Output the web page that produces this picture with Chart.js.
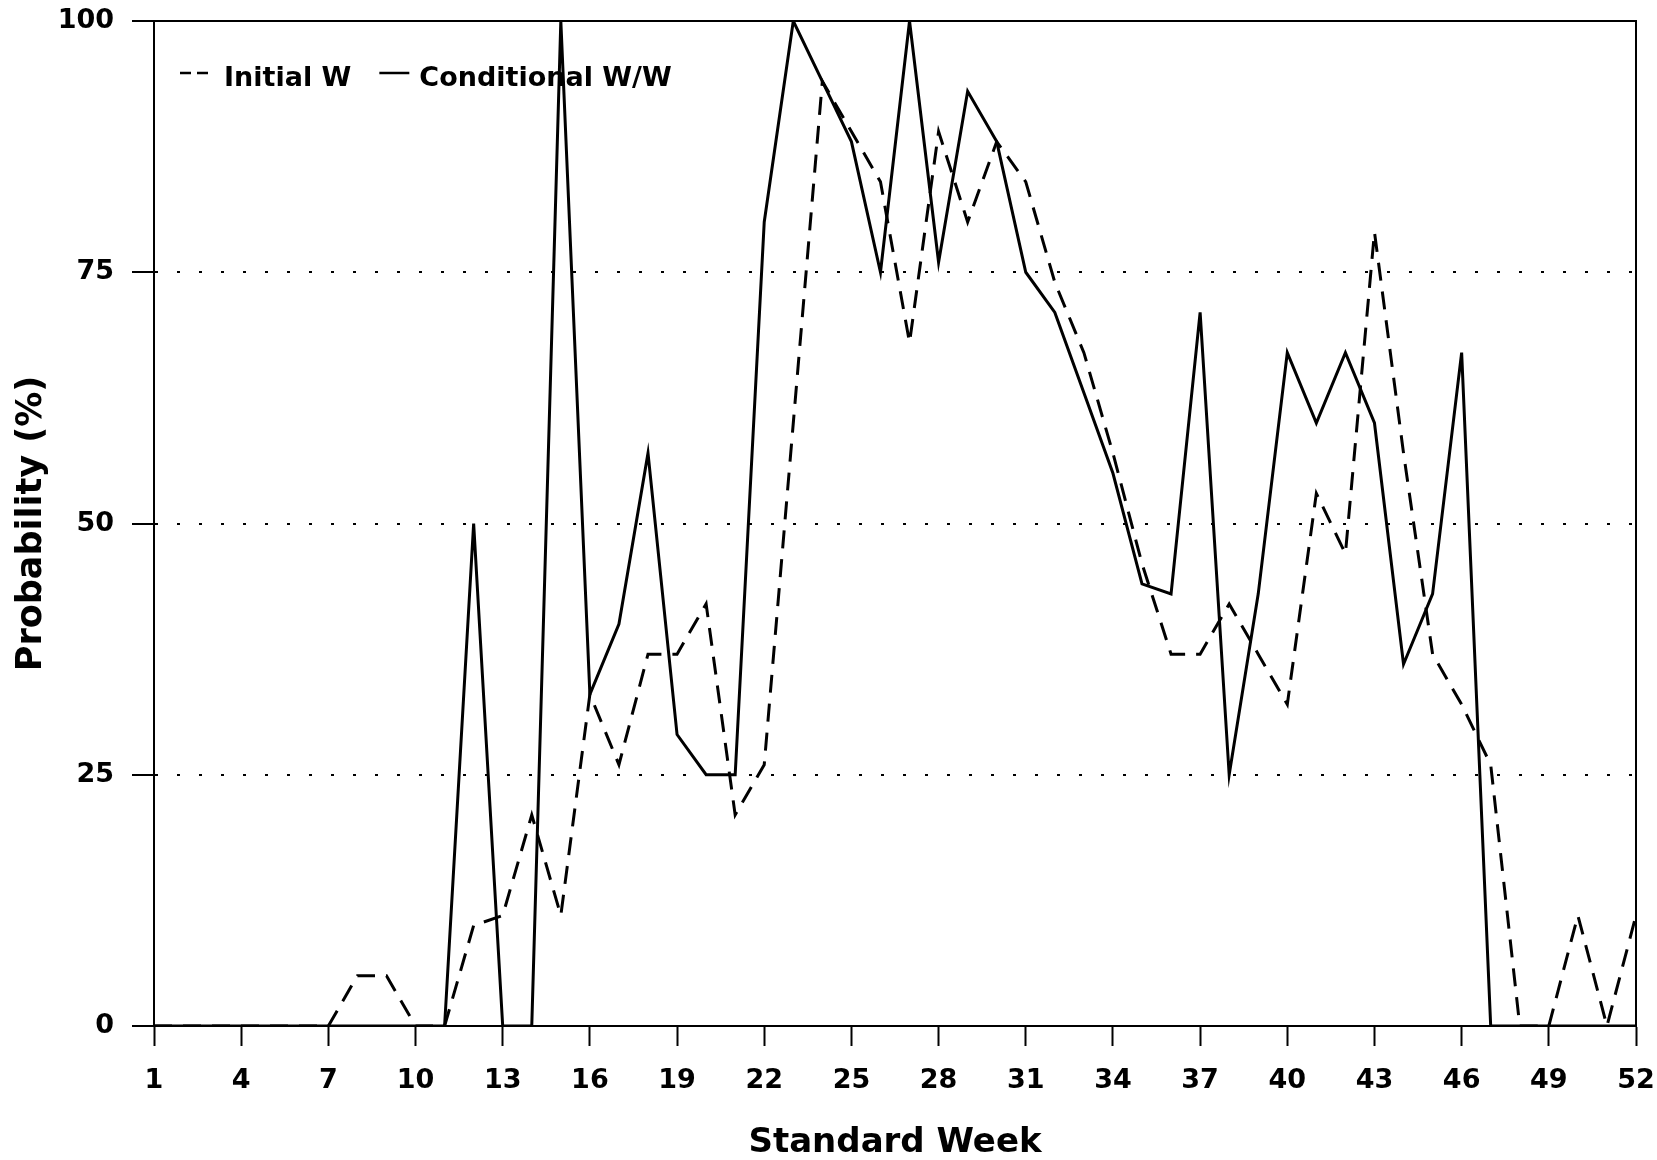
<!DOCTYPE html>
<html>
<head>
<meta charset="utf-8">
<script src="https://cdn.jsdelivr.net/npm/chart.js@4.4.1/dist/chart.umd.min.js"></script>
<style>
  html, body { margin: 0; padding: 0; background: #ffffff; }
  #wrap { width: 1657px; height: 1160px; position: relative; }
</style>
</head>
<body>
<div id="wrap"><canvas id="c" width="1657" height="1160"></canvas></div>
<script>
// ---- data ----
const weeks = [1,2,3,4,5,6,7,8,9,10,11,12,13,14,15,16,17,18,19,20,21,22,23,24,25,26,
               27,28,29,30,31,32,33,34,35,36,37,38,39,40,41,42,43,44,45,46,47,48,49,50,51,52];
const initialW = [0,0,0,0,0,0,0,5,5,0,0,10,11,21,11,33,26,37,37,42,21,26,60,94,89,84,
                  68,89,80,88,84,74,67,57,46,37,37,42,37,32,53,47,79,57,37,32,26,0,0,11,0,11];
const conditionalWW = [0,0,0,0,0,0,0,0,0,0,0,50,0,0,100,33,40,57,29,25,25,80,100,94,88,75,
                       100,76,93,88,75,71,63,55,44,43,71,25,43,67,60,67,60,36,43,67,0,0,0,0,0,0];
const weekTicks = [1,4,7,10,13,16,19,22,25,28,31,34,37,40,43,46,49,52];
const probTicks = [0,25,50,75,100];
const seriesLabels = ['Initial W', 'Conditional W/W'];
const xTitle = 'Standard Week';
const yTitle = 'Probability (%)';

const FONT = "'DejaVu Sans', 'Liberation Sans', Arial, sans-serif";

const framePlugin = {
  id: 'frame',
  beforeDatasetsDraw(chart) {
    const {ctx, chartArea: a} = chart;
    ctx.save();
    ctx.strokeStyle = '#000';
    ctx.lineWidth = 2;
    ctx.beginPath();
    ctx.moveTo(a.left, a.top);
    ctx.lineTo(a.right, a.top);
    ctx.lineTo(a.right, a.bottom);
    ctx.stroke();
    ctx.restore();
  }
};

const legendPlugin = {
  id: 'innerLegend',
  afterDraw(chart) {
    const {ctx, chartArea: a} = chart;
    const y = a.top + 58;
    let x = a.left + 26;
    ctx.save();
    ctx.font = "bold 27px " + FONT;
    ctx.fillStyle = '#000';
    ctx.textBaseline = 'middle';
    ctx.textAlign = 'left';
    chart.data.datasets.forEach((ds, i) => {
      const sampleLen = i === 0 ? 34 : 30;
      ctx.strokeStyle = '#000';
      ctx.lineWidth = 2.5;
      ctx.setLineDash(i === 0 ? [11, 6] : []);
      ctx.beginPath();
      ctx.moveTo(x, y - 6);
      ctx.lineTo(x + sampleLen, y - 6);
      ctx.stroke();
      ctx.setLineDash([]);
      x += sampleLen + 10;
      ctx.fillText(ds.label, x, y);
      x += ctx.measureText(ds.label).width + 28;
    });
    ctx.restore();
  }
};

new Chart(document.getElementById('c'), {
  type: 'line',
  data: {
    datasets: [
      {
        label: seriesLabels[0],
        data: weeks.map((w, i) => ({x: w, y: initialW[i]})),
        borderColor: '#000',
        borderWidth: 3,
        borderDash: [18, 11],
        pointRadius: 0,
        tension: 0,
        fill: false
      },
      {
        label: seriesLabels[1],
        data: weeks.map((w, i) => ({x: w, y: conditionalWW[i]})),
        borderColor: '#000',
        borderWidth: 3,
        pointRadius: 0,
        tension: 0,
        fill: false
      }
    ]
  },
  options: {
    responsive: false,
    animation: false,
    devicePixelRatio: 1,
    layout: { autoPadding: false, padding: { top: 21, right: 21, left: 0, bottom: 0 } },
    plugins: {
      legend: { display: false },
      tooltip: { enabled: false }
    },
    scales: {
      x: {
        type: 'linear',
        min: 1,
        max: 52,
        afterBuildTicks: (axis) => { axis.ticks = weekTicks.map(v => ({value: v})); },
        afterFit: (scale) => {
          scale.height = 134;
          scale.paddingLeft = 0;
          scale.paddingRight = 0;
        },
        ticks: {
          color: '#000',
          font: { family: FONT, size: 27, weight: 'bold' },
          padding: 19,
          maxRotation: 0,
          autoSkip: false,
          callback: (v) => String(v)
        },
        grid: {
          drawOnChartArea: false,
          drawTicks: true,
          tickLength: 20,
          tickWidth: 2,
          tickColor: '#000',
          color: 'transparent'
        },
        border: { display: true, color: '#000', width: 2 },
        title: {
          display: true,
          text: xTitle,
          color: '#000',
          font: { family: FONT, size: 34, weight: 'bold', lineHeight: 1 },
          padding: { top: 0, bottom: 0 }
        }
      },
      y: {
        type: 'linear',
        min: 0,
        max: 100,
        afterBuildTicks: (axis) => { axis.ticks = probTicks.map(v => ({value: v})); },
        afterFit: (scale) => {
          scale.width = 154;
          scale.paddingTop = 0;
          scale.paddingBottom = 0;
        },
        ticks: {
          color: '#000',
          font: { family: FONT, size: 27, weight: 'bold' },
          padding: 18,
          callback: (v) => String(v)
        },
        grid: {
          drawOnChartArea: true,
          drawTicks: true,
          tickLength: 22,
          tickWidth: 2,
          tickColor: '#000',
          lineWidth: 2,
          color: (ctx) => (ctx.tick && ctx.tick.value > 0 && ctx.tick.value < 100) ? '#000' : 'transparent'
        },
        border: { display: true, color: '#000', width: 2, dash: [3, 19] },
        title: {
          display: true,
          text: yTitle,
          color: '#000',
          font: { family: FONT, size: 35, weight: 'bold', lineHeight: 1.2 },
          padding: { top: 11, bottom: 0 }
        }
      }
    }
  },
  plugins: [framePlugin, legendPlugin]
});
</script>
</body>
</html>
